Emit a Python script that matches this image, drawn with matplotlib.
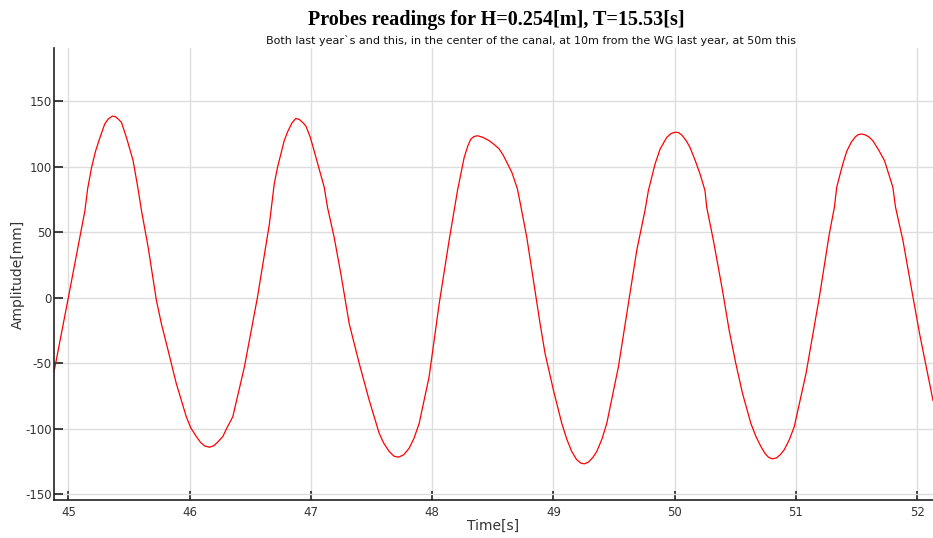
import matplotlib
matplotlib.use("Agg")
import matplotlib.pyplot as plt

plt.rcParams["axes.unicode_minus"] = False

# probe reading
time_s = [44.882, 45.0, 45.137, 45.159, 45.192, 45.225, 45.26, 45.30, 45.33, 45.364, 45.39,
          45.415, 45.438, 45.48, 45.534, 45.575, 45.603, 45.658, 45.726, 45.767, 45.822,
          45.89, 45.973, 46.01, 46.055, 46.09, 46.125, 46.164, 46.20, 46.235, 46.274,
          46.31, 46.356, 46.452, 46.56, 46.658, 46.698, 46.725, 46.78, 46.81, 46.845,
          46.876, 46.905, 46.935, 46.959, 46.995, 47.027, 47.11, 47.137, 47.192, 47.247,
          47.316, 47.398, 47.48, 47.563, 47.60, 47.646, 47.685, 47.723, 47.765, 47.81,
          47.85, 47.893, 47.975, 48.058, 48.14, 48.209, 48.264, 48.295, 48.319, 48.345,
          48.374, 48.42, 48.47, 48.51, 48.553, 48.588, 48.657, 48.703, 48.725, 48.78,
          48.835, 48.89, 48.931, 49.0, 49.069, 49.11, 49.151, 49.19, 49.225, 49.255,
          49.29, 49.325, 49.357, 49.40, 49.44, 49.536, 49.618, 49.687, 49.755, 49.783,
          49.838, 49.88, 49.934, 49.97, 50.0, 50.03, 50.06, 50.095, 50.126, 50.17,
          50.209, 50.25, 50.264, 50.319, 50.394, 50.449, 50.504, 50.559, 50.628, 50.67,
          50.711, 50.745, 50.775, 50.807, 50.84, 50.875, 50.904, 50.945, 50.986, 51.083,
          51.193, 51.275, 51.317, 51.336, 51.386, 51.42, 51.455, 51.49, 51.515, 51.537,
          51.57, 51.60, 51.634, 51.68, 51.73, 51.799, 51.821, 51.882, 51.95, 52.019,
          52.074, 52.13]
amplitude_mm = [-56.6, 0.0, 66.5, 83.0, 99.5, 112.0, 122.0, 132.5, 136.5, 138.6, 138.0,
                136.0, 133.8, 122.0, 104.6, 83.0, 66.5, 38.6, -2.0, -19.8, -40.0,
                -65.5, -91.0, -99.5, -106.0, -110.5, -113.3, -114.2, -113.0, -110.0, -106.0,
                -99.0, -91.0, -52.8, 0.5, 56.3, 86.8, 99.5, 119.8, 127.0, 133.5,
                136.8, 136.0, 133.5, 131.0, 122.5, 112.0, 84.3, 69.0, 46.0, 18.3,
                -19.8, -50.0, -78.0, -103.5, -111.0, -117.5, -121.0, -121.8, -120.0, -115.0,
                -107.5, -96.0, -60.4, -4.6, 43.7, 81.7, 107.0, 116.0, 121.0, 123.0,
                123.6, 122.3, 119.8, 117.0, 113.5, 108.4, 95.7, 83.0, 72.8, 46.2,
                13.2, -19.8, -42.6, -70.6, -96.0, -108.0, -117.5, -123.5, -126.3, -126.9,
                -125.5, -122.0, -117.5, -108.0, -96.0, -52.8, -4.6, 36.0, 66.5, 81.7,
                102.0, 113.5, 122.3, 125.3, 126.2, 126.1, 124.0, 119.8, 114.7, 104.5,
                94.4, 81.7, 69.0, 43.7, 5.6, -24.9, -50.3, -73.0, -96.0, -106.0,
                -113.7, -119.0, -122.0, -123.1, -122.3, -119.5, -116.0, -108.5, -98.5, -57.9,
                0.5, 48.7, 69.0, 84.3, 102.0, 112.0, 118.5, 122.8, 124.5, 124.9,
                124.3, 122.8, 119.8, 113.0, 104.6, 84.3, 69.0, 43.7, 8.1, -27.4,
                -52.8, -78.5]

x_ticks = [45, 46, 47, 48, 49, 50, 51, 52]
y_ticks = [-150, -100, -50, 0, 50, 100, 150]

fig = plt.figure(figsize=(9.33, 5.38), dpi=100)
ax = fig.add_axes([0.0579, 0.0706, 0.9421, 0.840])

ax.plot(time_s, amplitude_mm, color="#ff0000", linewidth=0.9)

ax.set_xlim(44.882, 52.13)
ax.set_ylim(-154.5, 190.5)
ax.set_xticks(x_ticks)
ax.set_yticks(y_ticks)
ax.grid(True, color="#dddddd", linewidth=1.0)
ax.set_axisbelow(True)

for side in ["top", "right"]:
    ax.spines[side].set_visible(False)
for side in ["left", "bottom"]:
    ax.spines[side].set_color("#222222")
    ax.spines[side].set_linewidth(1.2)

ax.tick_params(direction="in", length=6.5, width=1.2, color="#222222",
               labelsize=8.5, labelcolor="#333333")
ax.tick_params(axis="y", pad=1.5)
ax.tick_params(axis="x", pad=4.5)

ax.set_xlabel("Time[s]", fontsize=10, color="#333333", labelpad=0)
ax.set_ylabel("Amplitude[mm]", fontsize=10, color="#333333")
ax.yaxis.set_label_coords(-0.041, 0.5)
ax.yaxis.label.set_va("center")

fig.text(0.532, 0.962, "Probes readings for H=0.254[m], T=15.53[s]",
         ha="center", va="center", fontsize=14.5, fontweight="bold",
         family="Liberation Serif")
fig.text(0.569, 0.925,
         "Both last year`s and this, in the center of the canal, at 10m from the WG last year, at 50m this",
         ha="center", va="center", fontsize=8, color="#111111")

fig.savefig("out.png", dpi=100)
